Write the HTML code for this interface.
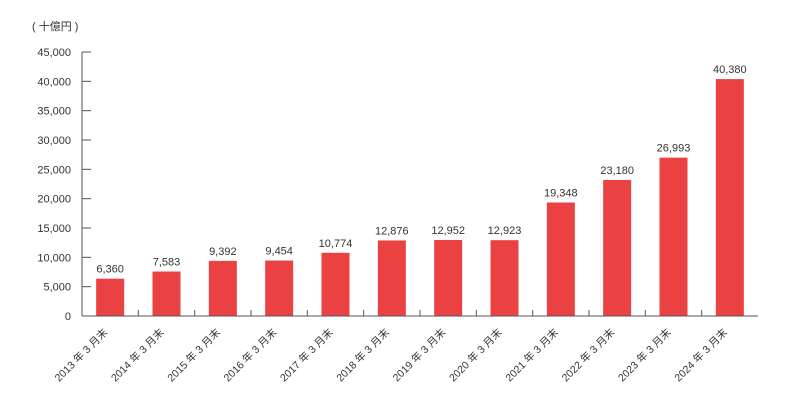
<!DOCTYPE html>
<html><head><meta charset="utf-8"><style>
body{margin:0;background:#fff;}
svg text{font-family:"Liberation Sans","Noto Sans CJK JP",sans-serif;fill:#333;}
</style></head><body>
<svg width="800" height="408" xmlns="http://www.w3.org/2000/svg">
<text x="32" y="30" font-size="11">( 十億円 )</text>
<g id="yaxis"></g>
<g id="bars"></g>
<g id="xaxis"></g>
</svg>
<script>
const categories=["2013 年 3 月末","2014 年 3 月末","2015 年 3 月末","2016 年 3 月末","2017 年 3 月末","2018 年 3 月末","2019 年 3 月末","2020 年 3 月末","2021 年 3 月末","2022 年 3 月末","2023 年 3 月末","2024 年 3 月末"];
const values=[6360,7583,9392,9454,10774,12876,12952,12923,19348,23180,26993,40380];
const yTicks=[0,5000,10000,15000,20000,25000,30000,35000,40000,45000];
const NS="http://www.w3.org/2000/svg";
const x0=82,x1=758,y0=316,y1=52,yMax=45000;
const band=(x1-x0)/categories.length;
const ys=v=>y0-(v/yMax)*(y0-y1);
const xs=i=>x0+band*(i+0.5);
function mk(t,a,p){const e=document.createElementNS(NS,t);for(const k in a)e.setAttribute(k,a[k]);p.appendChild(e);return e;}
const ya=document.getElementById('yaxis'),ba=document.getElementById('bars'),xa=document.getElementById('xaxis');
const al=mk('line',{x1:x0,y1:y1,x2:x0,y2:y0,stroke:'#555','stroke-width':1},ya);


yTicks.forEach(v=>{
 const tk=mk('line',{x1:x0,y1:ys(v),x2:x0+9,y2:ys(v),stroke:'#555','stroke-width':1},ya);
 
 
 const t=mk('text',{x:71,y:ys(v)+4,'text-anchor':'end','font-size':11},ya);
 t.textContent=v.toLocaleString('en-US');
 
 
});
const xl=mk('line',{x1:x0,y1:y0,x2:x1,y2:y0,stroke:'#555','stroke-width':1},xa);


categories.forEach((c,i)=>{
 const cx=xs(i),bw=28,v=values[i];
 const r=mk('rect',{x:cx-bw/2,y:ys(v),width:bw,height:y0-ys(v),fill:'#ea4242'},ba);
 
 
 const vl=mk('text',{x:cx,y:ys(v)-6,'text-anchor':'middle','font-size':11},ba);
 vl.textContent=v.toLocaleString('en-US');
 
 
 if(i<categories.length-1){
  const tk=mk('line',{x1:x0+band*(i+1),y1:y0,x2:x0+band*(i+1),y2:y0-6,stroke:'#555','stroke-width':1},xa);
  
  
 }
 const t=mk('text',{x:0,y:0,'text-anchor':'end','font-size':10.5,transform:`translate(${cx-2},${y0+17}) rotate(-45)`},xa);
 t.textContent=c;
 
 
});
</script>
</body></html>
